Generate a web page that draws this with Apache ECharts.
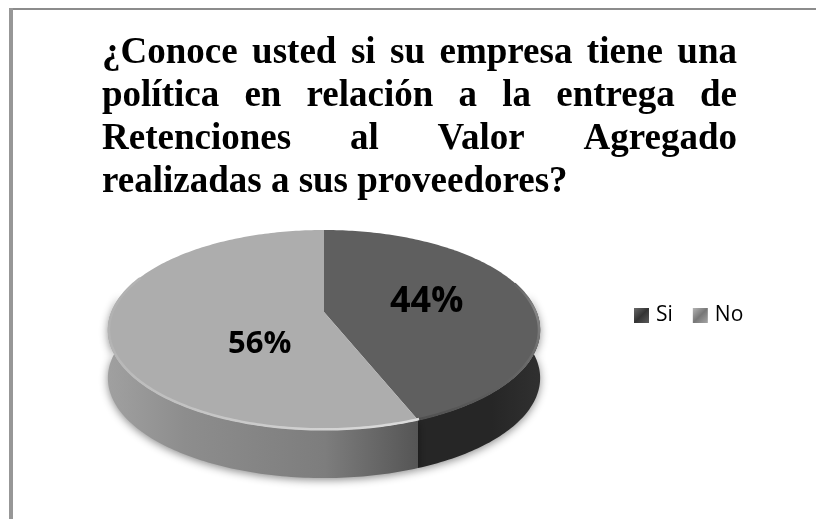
<!DOCTYPE html>
<html>
<head>
<meta charset="utf-8">
<style>
  html, body { margin: 0; padding: 0; background: #fff; }
  #chart { width: 816px; height: 519px; }
</style>
<script src="https://cdn.jsdelivr.net/npm/echarts@6/dist/echarts.min.js"></script>
</head>
<body>
<div id="chart"></div>
<script>
var categories = ["Si", "No"];
var sliceValues = [44, 56];
var titleLines = [
  "¿Conoce usted si su empresa tiene una",
  "política en relación a la entrega de",
  "Retenciones al Valor Agregado",
  "realizadas a sus proveedores?"
];

var chart = echarts.init(document.getElementById("chart"));

// pie seen in perspective: unit circle -> screen
var pie = { x: 324, y: 312, a: 212.6, b: 96.8, k: 0.18, depth: 48 };
var total = sliceValues.reduce(function(s, v) { return s + v; }, 0);

function project(deg, r) {
  var t = (deg * Math.PI) / 180;
  var u = r * Math.sin(t);
  var v = -r * Math.cos(t);
  var d = 1 - pie.k * v;
  return [pie.x + (pie.a * u) / d, pie.y + (pie.b * v) / d];
}
function arc(from, to, r, dy) {
  var pts = [];
  var n = Math.max(2, Math.ceil(Math.abs(to - from)));
  for (var i = 0; i <= n; i++) {
    var p = project(from + ((to - from) * i) / n, r);
    pts.push([p[0], p[1] + (dy || 0)]);
  }
  return pts;
}
function hGrad(stops) {
  return new echarts.graphic.LinearGradient(0, 0, 1, 0, stops);
}

var looks = [
  {
    top: "#5f5f5f",
    side: hGrad([
      { offset: 0, color: "#262626" },
      { offset: 0.6, color: "#262626" },
      { offset: 1, color: "#303030" }
    ]),
    rim: new echarts.graphic.LinearGradient(0, 0, 0, 1, [
      { offset: 0, color: "#5f5f5f" },
      { offset: 0.2, color: "#858585" },
      { offset: 0.5, color: "#6e6e6e" },
      { offset: 1, color: "#505050" }
    ]),
    rimFrom: 72,
    rimTo: 158,
    labelShift: [0, -1],
    fontSize: 36
  },
  {
    top: "#adadad",
    side: hGrad([
      { offset: 0, color: "#a0a0a0" },
      { offset: 0.25, color: "#8d8d8d" },
      { offset: 0.7, color: "#7d7d7d" },
      { offset: 1, color: "#555555" }
    ]),
    rim: new echarts.graphic.LinearGradient(0, 0, 1, 1, [
      { offset: 0, color: "#adadad" },
      { offset: 0.2, color: "#bcbcbc" },
      { offset: 0.55, color: "#cacaca" },
      { offset: 1, color: "#dedede" }
    ]),
    rimFrom: 158,
    rimTo: 292,
    labelShift: [42, 23],
    fontSize: 31
  }
];

function sliceSeries(name, index) {
  var before = 0;
  for (var i = 0; i < index; i++) before += sliceValues[i];
  var look = looks[index];
  return {
    name: name,
    type: "custom",
    coordinateSystem: "none",
    silent: true,
    itemStyle: { color: look.top },
    data: [[sliceValues[index]]],
    renderItem: function(params, api) {
      var value = api.value(0);
      var a0 = (before / total) * 360;
      var a1 = ((before + value) / total) * 360;
      var s0 = Math.max(a0, 80);
      var s1 = Math.min(a1, 280);
      var upper = arc(s0, s1, 1, 0);
      var lower = arc(s1, s0, 1, pie.depth);
      var mid = (a0 + a1) / 2;
      var lp = project(mid, 0.5);
      return {
        type: "group",
        children: [
          {
            type: "polygon",
            shape: { points: upper.concat(lower) },
            style: {
              fill: look.side,
              shadowColor: "rgba(0,0,0,0.45)",
              shadowBlur: 9,
              shadowOffsetY: 2
            }
          },
          {
            type: "polygon",
            shape: { points: [[pie.x, pie.y]].concat(arc(a0, a1, 1, 0)) },
            style: { fill: look.top }
          },
          {
            type: "polyline",
            shape: { points: arc(look.rimFrom, look.rimTo, 0.995, 0) },
            style: { fill: null, stroke: look.rim, lineWidth: 2.5 }
          },
          {
            type: "text",
            style: {
              text: value + "%",
              x: lp[0] + look.labelShift[0],
              y: lp[1] + look.labelShift[1],
              align: "center",
              verticalAlign: "middle",
              font: "bold " + look.fontSize + 'px "Open Sans"',
              fill: "#000"
            }
          }
        ]
      };
    }
  };
}

// title is justified like the original, so each word is placed by its measured width
var titleFont = 'bold 37px "Liberation Serif"';
var titleLeft = 102;
var titleRight = 737;
var titleTop = 35;
var titleStep = 43;
var ruler = document.createElement("canvas").getContext("2d");
ruler.font = titleFont;

function titleWords() {
  var out = [];
  titleLines.forEach(function(line, row) {
    var words = line.split(" ");
    var used = words.reduce(function(s, w) { return s + ruler.measureText(w).width; }, 0);
    var last = row === titleLines.length - 1;
    var gap = last ? ruler.measureText(" ").width : (titleRight - titleLeft - used) / (words.length - 1);
    var x = titleLeft;
    words.forEach(function(w) {
      out.push({
        type: "text",
        x: x,
        y: titleTop + row * titleStep,
        style: { text: w, font: titleFont, fill: "#000", verticalAlign: "top" }
      });
      x += ruler.measureText(w).width + gap;
    });
  });
  return out;
}

var frame = [
  { type: "rect", shape: { x: 9, y: 8, width: 807, height: 2 }, style: { fill: "#8c8c8c" } },
  { type: "rect", shape: { x: 9, y: 8, width: 4, height: 511 }, style: { fill: "#979797" } }
];

var option = {
  backgroundColor: "#fff",
  animation: false,
  legend: {
    left: 634,
    top: 305,
    padding: 0,
    itemWidth: 15,
    itemHeight: 15,
    itemGap: 20,
    selectedMode: false,
    textStyle: { fontFamily: "Open Sans", fontSize: 21, color: "#000", padding: [0, 0, 0, 2] },
    data: [
      {
        name: categories[0],
        icon: "rect",
        itemStyle: {
          color: new echarts.graphic.LinearGradient(0, 0, 1, 1, [
            { offset: 0, color: "#6a6a6a" },
            { offset: 0.5, color: "#333333" },
            { offset: 1, color: "#5a5a5a" }
          ])
        }
      },
      {
        name: categories[1],
        icon: "rect",
        itemStyle: {
          color: new echarts.graphic.LinearGradient(0, 0, 1, 1, [
            { offset: 0, color: "#b5b5b5" },
            { offset: 0.5, color: "#777777" },
            { offset: 1, color: "#a5a5a5" }
          ])
        }
      }
    ]
  },
  graphic: { elements: frame.concat(titleWords()) },
  series: categories.map(sliceSeries)
};
chart.setOption(option);
</script>
</body>
</html>
